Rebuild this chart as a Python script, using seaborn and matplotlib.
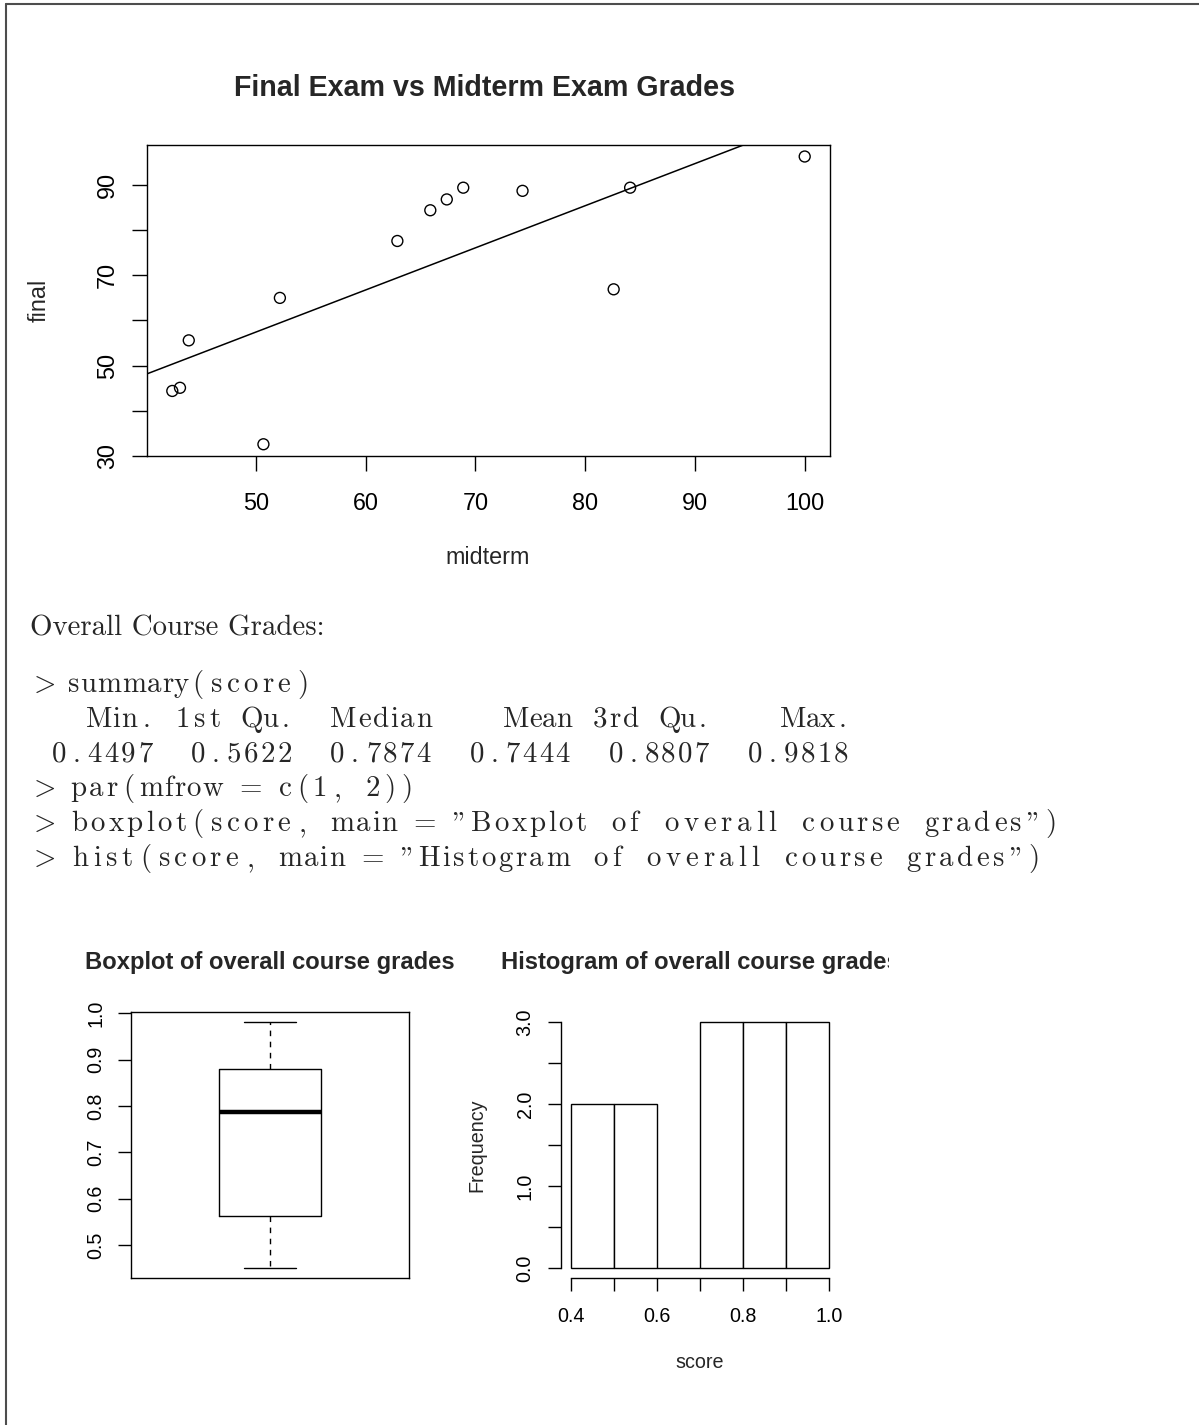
import re
import numpy as np
import matplotlib
matplotlib.use("Agg")
import matplotlib.pyplot as plt
import seaborn as sns
from matplotlib.font_manager import FontProperties
from matplotlib.transforms import Bbox, TransformedBbox

# data
midterm = [42.4, 43.1, 43.9, 50.7, 52.2, 62.9, 65.9, 67.4, 68.9, 74.3, 82.6, 84.1, 100.0]
final = [44.4, 45.1, 55.6, 32.6, 65.0, 77.6, 84.4, 86.8, 89.4, 88.7, 66.9, 89.4, 96.3]
score = [0.4497, 0.46, 0.52, 0.5622, 0.715, 0.76, 0.7874, 0.83, 0.86, 0.8807, 0.92, 0.95, 0.9818]
hist_breaks = [0.4, 0.5, 0.6, 0.7, 0.8, 0.9, 1.0]

summary_names = ["Min.", "1st Qu.", "Median", "Mean", "3rd Qu.", "Max."]
summary_values = ["0.4497", "0.5622", "0.7874", "0.7444", "0.8807", "0.9818"]

code_lines = [
    "> summary(score)",
    " ".join(n.rjust(7) for n in summary_names),
    " ".join(v.rjust(7) for v in summary_values),
    "> par(mfrow = c(1, 2))",
    '> boxplot(score, main = "Boxplot of overall course grades")',
    '> hist(score, main = "Histogram of overall course grades")',
]

sns.set_style("ticks")
plt.rcParams["font.family"] = ["Liberation Sans", "DejaVu Sans"]
plt.rcParams["mathtext.fontset"] = "cm"

W, H = 1199, 1425
fig = plt.figure(figsize=(W / 100, H / 100), dpi=100)


def px_box(l, t, r, b):
    return [l / W, 1 - b / H, (r - l) / W, (b - t) / H]


def r_range(vals):
    # R style axis range: data range plus 4% each side
    lo, hi = min(vals), max(vals)
    pad = 0.04 * (hi - lo)
    return lo - pad, hi + pad


def style_axes(ax, size, length, pad):
    for s in ax.spines.values():
        s.set_color("black")
        s.set_linewidth(1.0)
    ax.tick_params(direction="out", length=length, width=1.0, color="black",
                   labelsize=size, labelcolor="black", pad=pad)


# ---- scatter: final vs midterm
ax1 = fig.add_axes(px_box(147, 145, 830, 456))
ax1.set_xlim(r_range(midterm))
ax1.set_ylim(r_range(final))
sns.regplot(x=midterm, y=final, ax=ax1, ci=None, truncate=False, color="black",
            scatter_kws=dict(facecolors="none", edgecolors="black", s=62,
                             linewidths=1.0, alpha=1),
            line_kws=dict(lw=1.1))
ax1.set_xlim(r_range(midterm))
ax1.set_ylim(r_range(final))
style_axes(ax1, 16.8, 10.8, 14.9)
ax1.set_xticks(range(50, 101, 10))
yt = list(range(30, 91, 10))
ax1.set_yticks(yt)
ax1.set_yticklabels([str(v) if v % 20 == 10 else "" for v in yt], rotation=90, va="center")
ax1.tick_params(axis="y", pad=9.5)
ax1.set_xlabel("")
ax1.set_ylabel("")
fig.text(485 / W, 1 - 88 / H, "Final Exam vs Midterm Exam Grades", ha="center", va="center",
         fontsize=20.6, fontweight="bold")
fig.text(488 / W, 1 - 557 / H, "midterm", ha="center", va="center", fontsize=16.8)
fig.text(39 / W, 1 - 300 / H, "final", ha="center", va="center", fontsize=16.8, rotation=90)

# ---- text block (LaTeX listing look)
LST_SIZE = 20.8
LST_X0 = 33.0
LST_COL = 17.4
prop_cm = FontProperties(family="cmr10", size=LST_SIZE)
renderer = fig.canvas.get_renderer()

fig.text(30 / W, 1 - 636 / H, "Overall Course Grades:", fontproperties=prop_cm,
         ha="left", va="baseline")


def draw_code_line(line, baseline):
    # each token gets len(token) fixed columns, letters spread evenly inside
    for m in re.finditer(r"[A-Za-z0-9]+|\S", line):
        tok = m.group()
        left = LST_X0 + m.start() * LST_COL
        is_math = tok == ">"
        chars = ["$>$"] if is_math else list(tok)
        widths = [renderer.get_text_width_height_descent(c, prop_cm, ismath=is_math)[0]
                  for c in chars]
        gap = (len(tok) * LST_COL - sum(widths)) / (len(tok) + 1)
        x = left + gap
        for c, w in zip(chars, widths):
            fig.text(x / W, 1 - baseline / H, c, fontproperties=prop_cm,
                     ha="left", va="baseline")
            x += w + gap


for i, line in enumerate(code_lines):
    draw_code_line(line, 692 + i * 34.8)

# ---- boxplot
ax2 = fig.add_axes(px_box(131, 1012, 409, 1278))
sns.boxplot(y=score, ax=ax2, width=0.4, fill=False, color="black", linecolor="black",
            linewidth=1.0, whis=1.5,
            whiskerprops=dict(linestyle=(0, (4, 4))),
            medianprops=dict(linewidth=3.2))
ax2.set_xlim(-0.54, 0.54)
ax2.set_ylim(r_range(score))
style_axes(ax2, 14.2, 9.4, 8.9)
bt = np.round(np.arange(0.5, 1.01, 0.1), 1)
ax2.set_yticks(bt)
ax2.set_yticklabels([f"{v:.1f}" for v in bt], rotation=90, va="center")
ax2.set_xticks([])
ax2.set_xlabel("")
ax2.set_ylabel("")
fig.text(270 / W, 1 - 963 / H, "Boxplot of overall course grades", ha="center", va="center",
         fontsize=17.1, fontweight="bold")

# ---- histogram
ax3 = fig.add_axes(px_box(561, 1012, 839, 1278))
sns.histplot(x=score, bins=hist_breaks, ax=ax3, color="white", edgecolor="black",
             linewidth=1.0, alpha=1)
ax3.set_xlim(r_range(hist_breaks))
ax3.set_ylim(-0.12, 3.12)
style_axes(ax3, 14.2, 9.4, 9.6)
ax3.spines["top"].set_visible(False)
ax3.spines["right"].set_visible(False)
ax3.spines["left"].set_bounds(0, 3)
ax3.spines["bottom"].set_bounds(hist_breaks[0], hist_breaks[-1])
ht = np.arange(0, 3.01, 0.5)
ax3.set_yticks(ht)
ax3.set_yticklabels([f"{v:.1f}" if v % 1 == 0 else "" for v in ht], rotation=90, va="center")
xt = np.round(np.arange(0.4, 1.01, 0.1), 1)
ax3.set_xticks(xt)
ax3.set_xticklabels([f"{v:.1f}" if round(v * 10) % 2 == 0 else "" for v in xt])
ax3.tick_params(axis="x", pad=11.5)
ax3.set_xlabel("")
ax3.set_ylabel("")
fig.text(700 / W, 1 - 1363 / H, "score", ha="center", va="center", fontsize=14.2)
fig.text(477 / W, 1 - 1145 / H, "Frequency", ha="center", va="center", fontsize=14.2,
         rotation=90)
ht_title = fig.text(700 / W, 1 - 963 / H, "Histogram of overall course grades",
                    ha="center", va="center", fontsize=17.1, fontweight="bold")
ht_title.set_clip_box(TransformedBbox(Bbox([[0, 0], [889 / W, 1]]), fig.transFigure))
ht_title.set_clip_on(True)

# ---- page border
for xs, ys in [([6 / W, 6 / W], [0, 1 - 4 / H]), ([6 / W, 1], [1 - 4 / H, 1 - 4 / H])]:
    fig.add_artist(plt.Line2D(xs, ys, transform=fig.transFigure, color="#4d4d4d", lw=1.5))

fig.savefig("out.png", dpi=100)
